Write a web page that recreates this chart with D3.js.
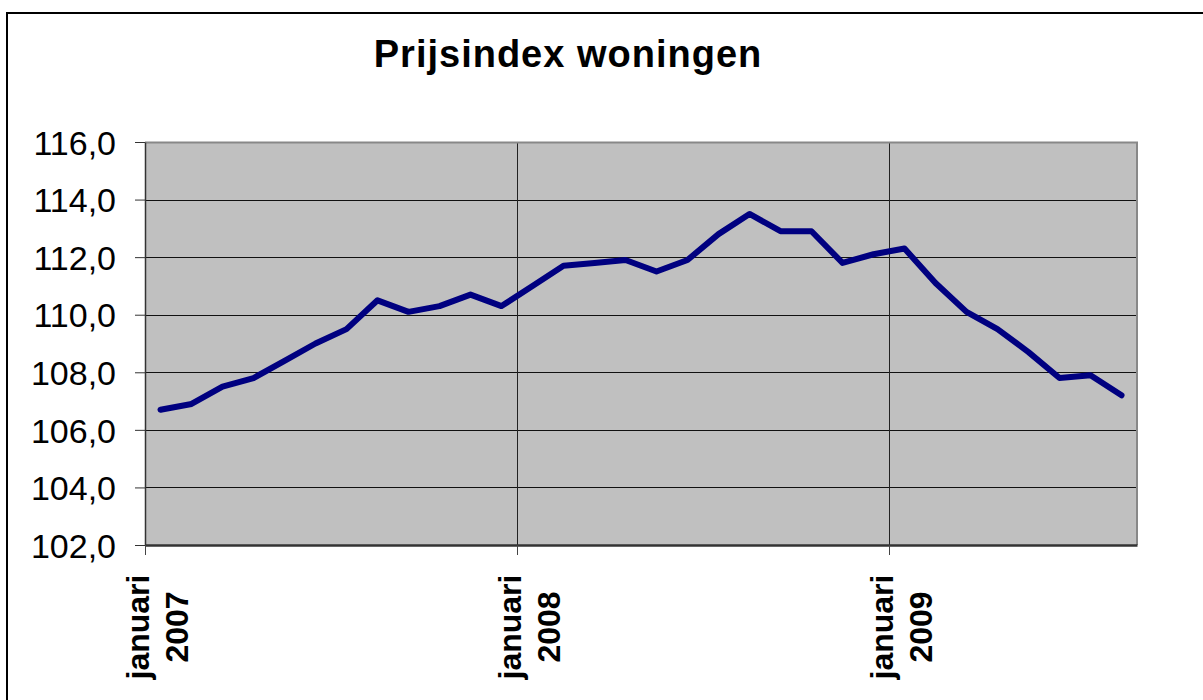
<!DOCTYPE html>
<html>
<head>
<meta charset="utf-8">
<script src="https://cdn.jsdelivr.net/npm/d3@7"></script>
<style>
    body { margin: 0; background: #fff; }
    svg { display: block; font-family: Arial, "Liberation Sans", sans-serif; }
</style>
</head>
<body>
<div id="chart"></div>
<script>
const W = 1203;
const H = 700;

const MARGIN = {
    TOP: 142,
    RIGHT: 66,
    BOTTOM: 155,
    LEFT: 145,
};
const WIDTH = W - MARGIN.LEFT - MARGIN.RIGHT;
const HEIGHT = H - MARGIN.TOP - MARGIN.BOTTOM;

const TITLE = "Prijsindex woningen";

// maanden jan 2007 t/m aug 2009
const months = [
    "jan 2007", "feb 2007", "mrt 2007", "apr 2007", "mei 2007", "jun 2007",
    "jul 2007", "aug 2007", "sep 2007", "okt 2007", "nov 2007", "dec 2007",
    "jan 2008", "feb 2008", "mrt 2008", "apr 2008", "mei 2008", "jun 2008",
    "jul 2008", "aug 2008", "sep 2008", "okt 2008", "nov 2008", "dec 2008",
    "jan 2009", "feb 2009", "mrt 2009", "apr 2009", "mei 2009", "jun 2009",
    "jul 2009", "aug 2009",
];

const prijsindex = [
    106.7, 106.9, 107.5, 107.8, 108.4, 109.0, 109.5, 110.5, 110.1, 110.3, 110.7, 110.3,
    111.0, 111.7, 111.8, 111.9, 111.5, 111.9, 112.8, 113.5, 112.9, 112.9, 111.8, 112.1,
    112.3, 111.1, 110.1, 109.5, 108.7, 107.8, 107.9, 107.2,
];

const yTicks = [102, 104, 106, 108, 110, 112, 114, 116];

// labels op de jaargrenzen
const xTickMonths = ["jan 2007", "jan 2008", "jan 2009"];
const xTickLabels = [["januari", "2007"], ["januari", "2008"], ["januari", "2009"]];

const data = months.map((m, i) => ({ month: m, value: prijsindex[i] }));

const svg = d3.select("#chart")
    .append("svg")
    .attr("width", W)
    .attr("height", H);

// buitenrand van de grafiek
svg.append("rect")
    .attr("x", 7)
    .attr("y", 13)
    .attr("width", W + 50)
    .attr("height", H + 50)
    .attr("fill", "#fff")
    .attr("stroke", "#000")
    .attr("stroke-width", 2);

svg.append("text")
    .attr("x", 568)
    .attr("y", 67)
    .attr("text-anchor", "middle")
    .style("font-size", "38px")
    .style("font-weight", "bold")
    .style("letter-spacing", "1px")
    .text(TITLE);

const g = svg.append("g")
    .attr("transform", `translate(${MARGIN.LEFT}, ${MARGIN.TOP})`);

const x = d3.scaleBand().domain(months).range([0, WIDTH]).padding(0);
const y = d3.scaleLinear().domain([102, 116]).range([HEIGHT, 0]);

g.append("rect")
    .attr("width", WIDTH)
    .attr("height", HEIGHT)
    .attr("fill", "#c0c0c0");

// horizontale rasterlijnen
g.append("g")
    .selectAll("line")
    .data(yTicks.slice(1))
    .join("line")
    .attr("x1", 0)
    .attr("x2", WIDTH)
    .attr("y1", d => Math.round(y(d)) + 0.5)
    .attr("y2", d => Math.round(y(d)) + 0.5)
    .attr("stroke", "#111")
    .attr("stroke-width", 1);

// verticale rasterlijnen
g.append("g")
    .selectAll("line")
    .data(xTickMonths.slice(1))
    .join("line")
    .attr("x1", d => Math.round(x(d)) + 0.5)
    .attr("x2", d => Math.round(x(d)) + 0.5)
    .attr("y1", 0)
    .attr("y2", HEIGHT)
    .attr("stroke", "#222")
    .attr("stroke-width", 1);

// rand rechts en boven
g.append("path")
    .attr("d", `M0,0.5H${WIDTH}V${HEIGHT}`)
    .attr("fill", "none")
    .attr("stroke", "#888")
    .attr("stroke-width", 2);

const line = d3.line()
    .x(d => x(d.month) + x.bandwidth() / 2)
    .y(d => y(d.value));

g.append("path")
    .datum(data)
    .attr("fill", "none")
    .attr("stroke", "#000080")
    .attr("stroke-width", 6)
    .attr("stroke-linejoin", "round")
    .attr("stroke-linecap", "round")
    .attr("d", line);

// y-as
const yAxis = g.append("g")
    .call(d3.axisLeft(y)
        .tickValues(yTicks)
        .tickSize(10)
        .tickSizeOuter(0)
        .tickPadding(19)
        .tickFormat(d => d.toFixed(1).replace(".", ",")));
yAxis.select(".domain").attr("stroke", "#333").attr("stroke-width", 1.5);
yAxis.selectAll(".tick line").attr("stroke", "#333");
yAxis.selectAll(".tick text")
    .attr("dy", "0.36em")
    .style("font-size", "34px")
    .style("font-family", "Arial, 'Liberation Sans', sans-serif")
    .attr("fill", "#000");

// x-as, alleen streepjes op jaargrenzen
const xAxis = g.append("g")
    .attr("transform", `translate(0, ${HEIGHT})`)
    .call(d3.axisBottom(x)
        .tickValues(xTickMonths)
        .tickSize(10)
        .tickSizeOuter(0)
        .tickFormat(""));
xAxis.select(".domain").attr("stroke", "#333").attr("stroke-width", 2.5);
xAxis.selectAll(".tick")
    .attr("transform", d => `translate(${Math.round(x(d)) + 0.5}, 0)`);
xAxis.selectAll(".tick line").attr("stroke", "#444");

xAxis.selectAll(".tick")
    .each(function (d, i) {
        const t = d3.select(this).append("text")
            .attr("transform", "translate(0, 82) rotate(-90)")
            .attr("text-anchor", "middle")
            .attr("fill", "#000")
            .style("font-size", "32px")
            .style("font-weight", "bold");
        t.append("tspan").attr("x", 0).attr("y", 3).text(xTickLabels[i][0]);
        t.append("tspan").attr("x", 0).attr("y", 42).text(xTickLabels[i][1]);
    });
</script>
</body>
</html>
